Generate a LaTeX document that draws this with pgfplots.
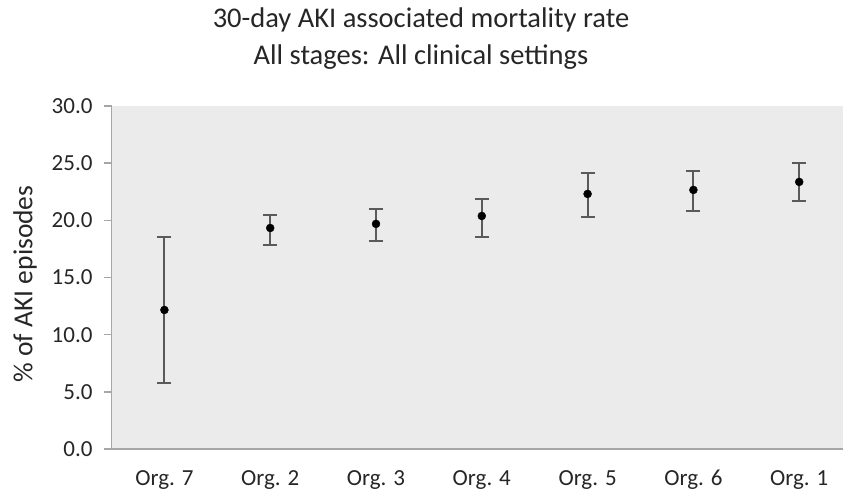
\documentclass[border=0pt]{standalone}
\usepackage{pgfplots}
\pgfplotsset{compat=1.18}
\usepackage{pgfplotstable}
\usepackage{fontspec}
\setmainfont{Carlito}

\definecolor{plotbg}{HTML}{EBEBEB}
\definecolor{axisgray}{HTML}{A6A6A6}
\definecolor{errgray}{HTML}{5A5A5A}
\definecolor{textgray}{HTML}{262626}

% x: position, y: rate, ep/em: upper/lower distance of the confidence interval
\pgfplotstableread{
x  y      ep    em
0  12.16  6.42  6.42
1  19.33  1.11  1.48
2  19.69  1.34  1.49
3  20.38  1.49  1.83
4  22.31  1.84  2.01
5  22.66  1.66  1.84
6  23.36  1.69  1.66
}\mortality

\begin{document}
\begin{tikzpicture}[x=1pt,y=1pt]
\useasboundingbox (0,0) rectangle (843,495);
\begin{axis}[
  at={(111.5pt,46pt)}, anchor=south west,
  scale only axis,
  width=731.5pt, height=343pt,
  xmin=-0.5, xmax=6.414,
  ymin=0, ymax=30,
  axis x line*=bottom,
  axis y line*=left,
  axis line style={axisgray, line width=1.6pt},
  axis background/.style={fill=plotbg},
  xtick={0,...,6},
  xticklabels={Org. 7, Org. 2, Org. 3, Org. 4, Org. 5, Org. 6, Org. 1},
  x tick style={draw=none},
  extra x ticks={-0.5,0.5,1.5,2.5,3.5,4.5,5.5},
  extra x tick labels={},
  extra x tick style={tick style={draw=axisgray, line width=1.6pt}, major tick length=7pt, tick align=outside},
  ytick={0,5,...,30},
  y tick style={draw=axisgray, line width=1.6pt},
  major tick length=7pt,
  tick align=outside,
  tick label style={font=\fontsize{23}{26}\selectfont, text=textgray},
  /pgf/number format/assume math mode=true,
  y tick label style={xshift=-8.5pt},
  yticklabel style={/pgf/number format/.cd, fixed, fixed zerofill, precision=1},
  xticklabel style={anchor=base, yshift=-29pt},
  clip=false,
]
\addplot[
  only marks,
  mark=*, mark size=4pt, mark options={fill=black, draw=black},
  error bars/.cd,
    y dir=both, y explicit,
    error bar style={errgray, line width=1.9pt},
    error mark options={rotate=90, mark size=7pt, errgray, line width=1.9pt},
] table[x=x, y=y, y error plus=ep, y error minus=em] {\mortality};
\end{axis}
\node[font=\fontsize{28.5}{32}\selectfont, text=textgray, anchor=base] at (421,467) {30-day AKI associated mortality rate};
\node[font=\fontsize{28.5}{32}\selectfont, text=textgray, anchor=base] at (421,430) {All stages: All clinical settings};
\node[font=\fontsize{27.5}{30}\selectfont, text=textgray, rotate=90] at (25,211) {\% of AKI episodes};
\end{tikzpicture}
\end{document}
